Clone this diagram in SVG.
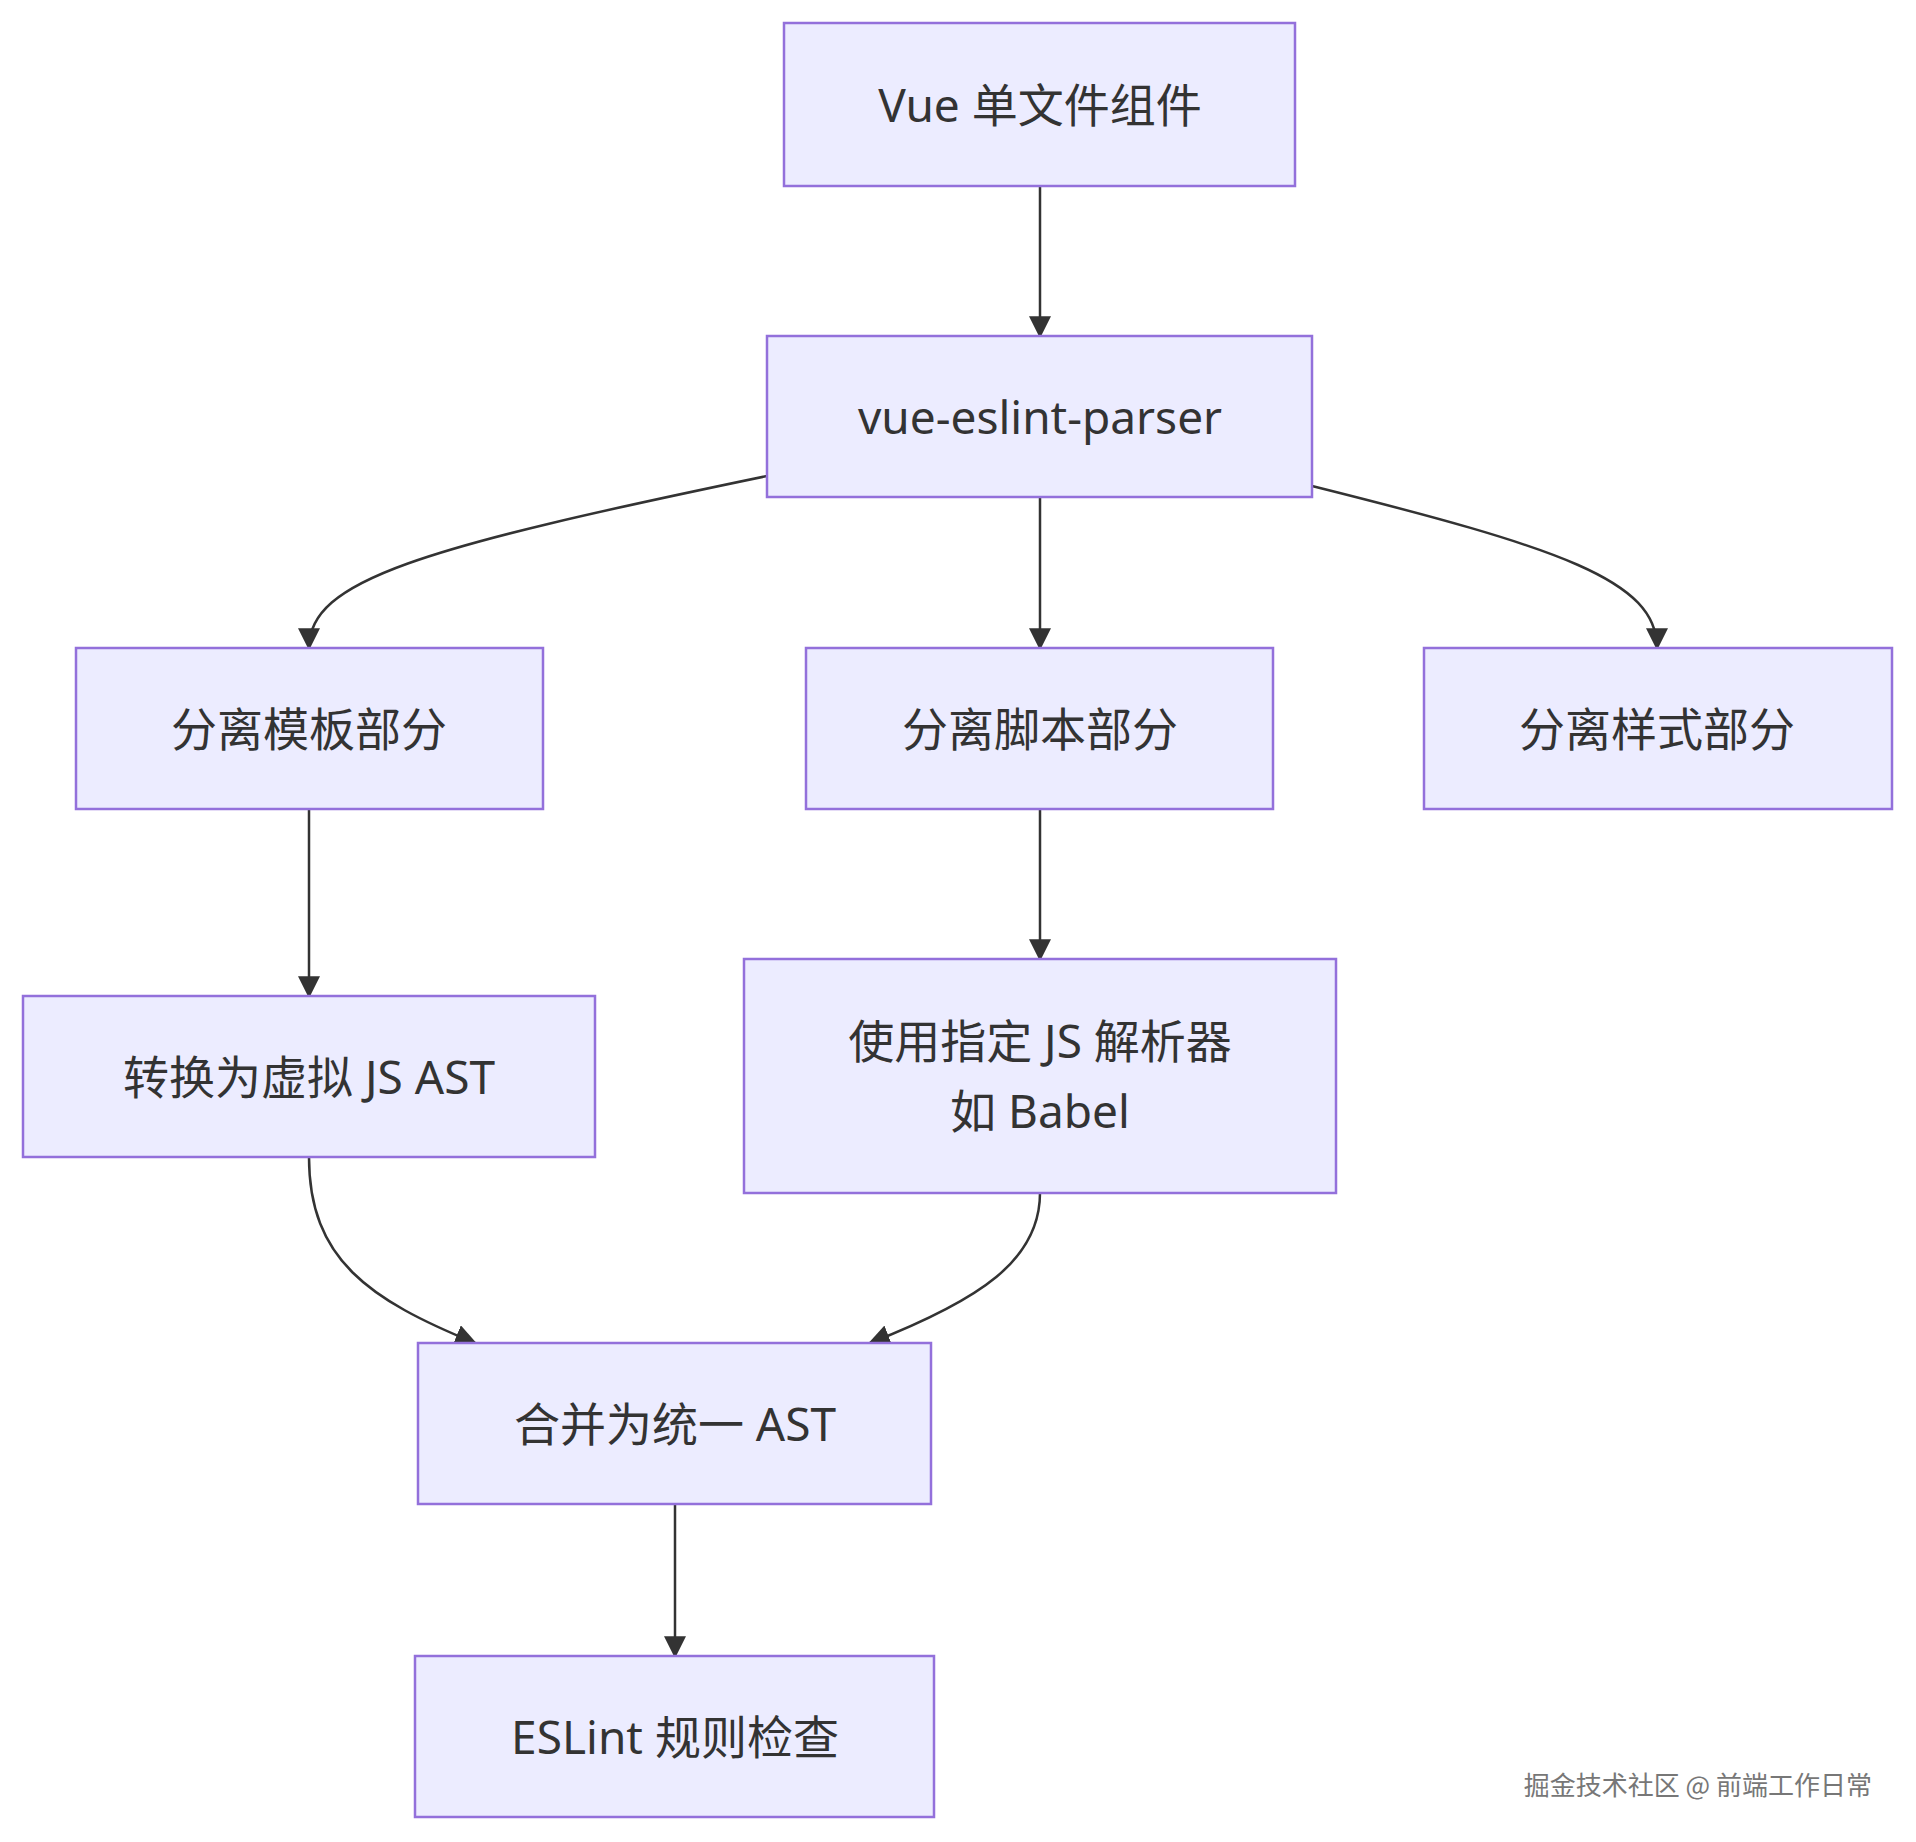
<svg xmlns="http://www.w3.org/2000/svg" width="1916" height="1842" viewBox="0 0 1916 1842">
<style>
.n rect{fill:#ECECFF;stroke:#9370DB;stroke-width:2.5}
.n text{font-family:"Noto Sans","Noto Sans CJK SC",sans-serif;font-size:46px;fill:#333;text-anchor:middle;dominant-baseline:central}
.e path{fill:none;stroke:#333;stroke-width:2.5;marker-end:url(#a)}
</style>
<defs><marker id="a" viewBox="0 0 10 10" refX="9" refY="5" markerWidth="22" markerHeight="22" markerUnits="userSpaceOnUse" orient="auto"><path d="M0,0L10,5L0,10z" fill="#333"/></marker></defs>
<rect width="1916" height="1842" fill="#fff"/>
<g class="e">
<path d="M1040,186V336"/>
<path d="M767,476C420,548 309,580 309,648"/>
<path d="M1040,497V648"/>
<path d="M1312,486C1560,548 1657,580 1657,648"/>
<path d="M309,809V996"/>
<path d="M1040,809V959"/>
<path d="M309,1157C309,1260 370,1300 475,1343"/>
<path d="M1040,1193C1040,1260 980,1300 870,1343"/>
<path d="M675,1504V1656"/>
</g>
<g id="A" class="n"><rect x="784" y="23" width="511" height="163"/><text x="1040" y="104">Vue 单文件组件</text></g>
<g id="B" class="n"><rect x="767" y="336" width="545" height="161"/><text x="1040" y="416">vue-eslint-parser</text></g>
<g id="C1" class="n"><rect x="76" y="648" width="467" height="161"/><text x="309" y="728">分离模板部分</text></g>
<g id="C2" class="n"><rect x="806" y="648" width="467" height="161"/><text x="1040" y="728">分离脚本部分</text></g>
<g id="C3" class="n"><rect x="1424" y="648" width="468" height="161"/><text x="1657" y="728">分离样式部分</text></g>
<g id="D1" class="n"><rect x="23" y="996" width="572" height="161"/><text x="309" y="1076">转换为虚拟 JS AST</text></g>
<g id="D2" class="n"><rect x="744" y="959" width="592" height="234"/><text x="1040" y="1040">使用指定 JS 解析器</text><text x="1040" y="1110">如 Babel</text></g>
<g id="E" class="n"><rect x="418" y="1343" width="513" height="161"/><text x="675" y="1423">合并为统一 AST</text></g>
<g id="F" class="n"><rect x="415" y="1656" width="519" height="161"/><text x="675" y="1736">ESLint 规则检查</text></g>
<text x="1872" y="1795" text-anchor="end" font-family="Noto Sans CJK SC,sans-serif" font-size="26" fill="#777">掘金技术社区 @ 前端工作日常</text>
</svg>
